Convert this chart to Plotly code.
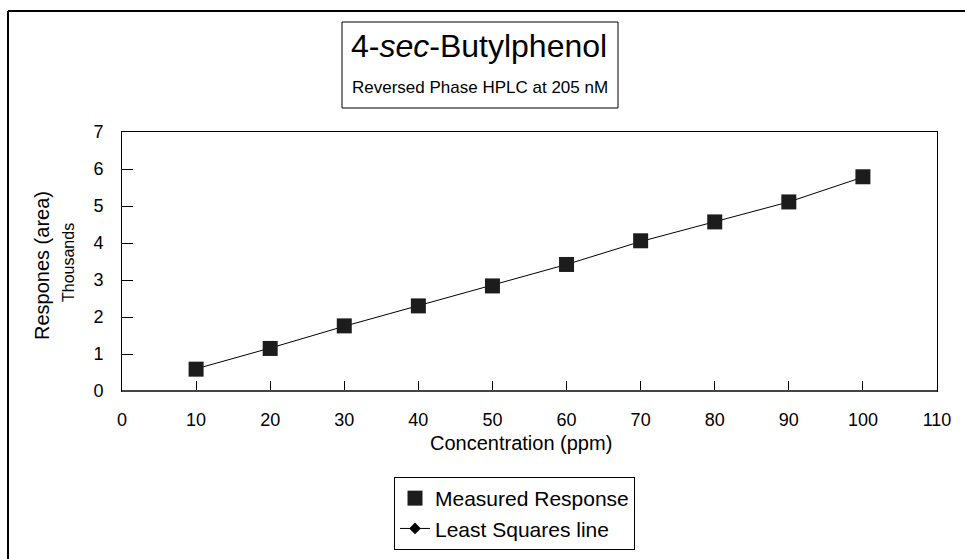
import plotly.graph_objects as go

# ---- data ----
concentration = [10, 20, 30, 40, 50, 60, 70, 80, 90, 100]
measured_response = [0.59, 1.15, 1.76, 2.30, 2.84, 3.42, 4.06, 4.57, 5.11, 5.79]
least_squares = [0.60, 1.16, 1.75, 2.30, 2.85, 3.42, 4.04, 4.57, 5.11, 5.78]
x_ticks = [0, 10, 20, 30, 40, 50, 60, 70, 80, 90, 100, 110]
y_ticks = [0, 1, 2, 3, 4, 5, 6, 7]

W, H = 965, 559
L, R, T, B = 122, 937, 132, 391  # plot area in pixels
FONT = "Liberation Sans, Arial, Helvetica, sans-serif"


def px(xp):
    return (xp - L) / (R - L)


def py(yp):
    return (B - yp) / (B - T)


fig = go.Figure()

fig.add_trace(go.Scatter(
    x=concentration, y=least_squares, mode="lines+markers",
    name="Least Squares line", legendrank=2,
    line=dict(color="black", width=1),
    marker=dict(symbol="diamond", size=9, color="black"),
))
fig.add_trace(go.Scatter(
    x=concentration, y=measured_response, mode="markers",
    name="Measured Response", legendrank=1,
    marker=dict(symbol="square", size=15, color="#1c1c1c",
                line=dict(width=0)),
))

axis_common = dict(
    showline=True, mirror=True, linecolor="black", linewidth=1,
    ticks="inside", tickcolor="black", showgrid=False, zeroline=False,
    tickfont=dict(family=FONT, size=18, color="black"),
)
fig.update_xaxes(range=[0, 110], tickvals=x_ticks, ticklen=10,
                 ticklabelstandoff=12, **axis_common)
fig.update_yaxes(range=[0, 7], tickvals=y_ticks, ticklen=11,
                 ticklabelstandoff=14, **axis_common)

shapes = [
    # outer frame (left and top)
    dict(type="line", xref="paper", yref="paper", x0=px(8), x1=px(8),
         y0=py(11), y1=py(560), line=dict(color="black", width=2)),
    dict(type="line", xref="paper", yref="paper", x0=px(8), x1=px(966),
         y0=py(11), y1=py(11), line=dict(color="black", width=2)),
    # title box
    dict(type="rect", xref="paper", yref="paper", x0=px(342), x1=px(618),
         y0=py(108), y1=py(22), line=dict(color="black", width=1)),
    # thicker bottom axis
    dict(type="line", xref="paper", yref="paper", x0=0, x1=1, y0=0, y1=0,
         line=dict(color="#444444", width=2)),
]


def ann(text, xp, yp, size, angle=0):
    return dict(text=text, x=px(xp), y=py(yp), xref="paper", yref="paper",
                xanchor="center", yanchor="middle", showarrow=False,
                textangle=angle, font=dict(family=FONT, size=size, color="black"))


annotations = [
    ann("4-<i>sec</i>-Butylphenol", 479, 46, 32),
    ann("Reversed Phase HPLC at 205 nM", 480, 88, 17),
    ann("Concentration (ppm)", 521, 443, 20),
    ann("Respones (area)", 42, 266, 20, -90),
    ann("Thousands", 68, 263, 16, -90),
]

fig.update_layout(
    width=W, height=H,
    margin=dict(l=L, r=W - R, t=T, b=H - B, autoexpand=False),
    paper_bgcolor="white", plot_bgcolor="white",
    showlegend=True,
    legend=dict(x=px(394), y=py(477), xanchor="left", yanchor="top",
                bordercolor="black", borderwidth=1, bgcolor="white",
                font=dict(family=FONT, size=21, color="black"),
                itemwidth=30, tracegroupgap=0),
    shapes=shapes, annotations=annotations,
)

fig.write_html("out.html")
